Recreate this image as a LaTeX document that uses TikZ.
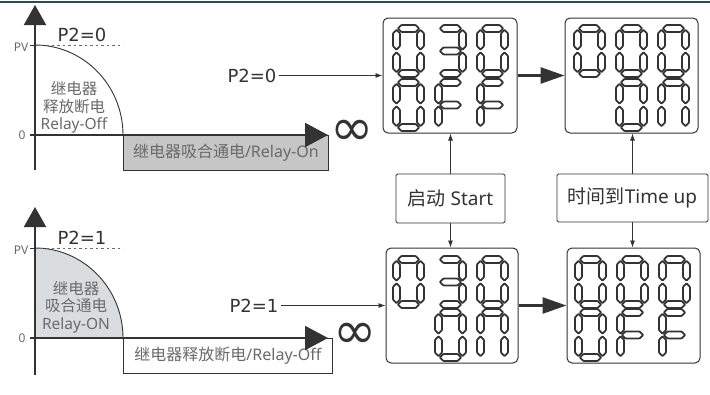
\documentclass[tikz,border=0pt]{standalone}
\usepackage{fontspec}
\setmainfont{Noto Sans}
\newfontfamily\cjk{Noto Sans CJK SC}
\newfontfamily\dvs{DejaVu Sans}
\usetikzlibrary{arrows.meta}
\definecolor{ink}{HTML}{333333}
\definecolor{soft}{HTML}{6A6A6A}
\definecolor{boxgray}{HTML}{C6C6C6}
\definecolor{fillon}{HTML}{D9DDE0}
\definecolor{topline}{HTML}{2E4A4E}
% seven-segment pieces (half thickness 3.5)
\newcommand\sgH[2]{\draw[seg] (#1,#2) -- ++(3.5,-3.5) -- ++(14.4,0) -- ++(3.5,3.5) -- ++(-3.5,3.5) -- ++(-14.4,0) -- cycle;}
\newcommand\sgV[2]{\draw[seg] (#1,#2) -- ++(3.5,3.5) -- ++(0,12.9) -- ++(-3.5,3.5) -- ++(-3.5,-3.5) -- ++(0,-12.9) -- cycle;}
\newcommand\segA[2]{\sgH{#1+4.8}{#2+3.5}}
\newcommand\segG[2]{\sgH{#1+4.8}{#2+26}}
\newcommand\segD[2]{\sgH{#1+4.8}{#2+48.5}}
\newcommand\segF[2]{\sgV{#1+3.5}{#2+4.8}}
\newcommand\segE[2]{\sgV{#1+3.5}{#2+27.3}}
\newcommand\segB[2]{\sgV{#1+27.5}{#2+4.8}}
\newcommand\segC[2]{\sgV{#1+27.5}{#2+27.3}}
\newcommand\chZero[2]{\segA{#1}{#2}\segB{#1}{#2}\segC{#1}{#2}\segD{#1}{#2}\segE{#1}{#2}\segF{#1}{#2}}
\newcommand\chThree[2]{\segA{#1}{#2}\segB{#1}{#2}\segC{#1}{#2}\segD{#1}{#2}\segG{#1}{#2}}
\newcommand\chEff[2]{\segA{#1}{#2}\segE{#1}{#2}\segF{#1}{#2}\segG{#1}{#2}}
\newcommand\chEn[2]{\segA{#1}{#2}\segB{#1}{#2}\segC{#1}{#2}\segE{#1}{#2}\segF{#1}{#2}}
\begin{document}
\begin{tikzpicture}[x=1pt,y=-1pt,
  seg/.style={draw=ink, line width=1.8pt, fill=white, line join=round, rounded corners=0.8pt},
  axisline/.style={draw=ink, line width=2pt},
  curveline/.style={draw=ink, line width=0.9pt},
  lcd/.style={draw=ink, line width=1pt, rounded corners=5pt, minimum width=#1, minimum height=115pt, inner sep=0pt},
  lblbox/.style={draw=ink, line width=0.8pt, rounded corners=1.5pt, inner sep=0pt, text=ink, font=\fontsize{19}{19}\selectfont},
  ptwo/.style={inner sep=2pt, text=ink, font=\dvs\fontsize{18}{18}\selectfont},
  axlbl/.style={inner sep=0pt, text=soft, font=\fontsize{12}{12}\selectfont},
  curvetxt/.style={inner sep=0pt, text=soft, align=center, font=\fontsize{15.5}{17.5}\selectfont},
  rangebox/.style={draw=ink, line width=0.8pt, anchor=north west, minimum height=35pt, inner sep=0pt, text=soft, font=\fontsize{16}{16}\selectfont},
  inftxt/.style={inner sep=0pt, text=ink, font=\dvs\fontsize{52}{52}\selectfont},
  thinarrow/.style={draw=ink, line width=0.8pt, -{Latex[length=7pt,width=5pt]}},
  bigarrow/.style={draw=ink, line width=2.6pt, -{Triangle[length=24pt,width=16pt]}}
]
\useasboundingbox (0,0) rectangle (710,394);
\fill[white] (0,0) rectangle (710,394);
\coordinate (tl1) at (0,2);
\coordinate (tl2) at (710,2);
\draw[topline, line width=1.6pt] (tl1) -- (tl2);

% ---------- top chart (P2=0) ----------
\coordinate (yb1) at (35,170);
\coordinate (yt1) at (35,5);
\coordinate (xs1) at (30,135);
\coordinate (xe1) at (328,135);
\coordinate (pv1) at (35,45);
\coordinate (pvl1) at (30,45);
\coordinate (dsh1) at (123,45);
\coordinate (ce1) at (123,135);
\node[rangebox, fill=boxgray, minimum width=205pt] (onbox) at (123,135) {{\cjk 继电器吸合通电}/Relay-On};
\draw[curveline] (pv1) .. controls (83.6,45) and (123,85.3) .. (ce1);
\draw[soft, line width=0.7pt, dash pattern=on 2.5pt off 3pt] (pv1) -- (dsh1);
\draw[ink, line width=0.8pt] (pvl1) -- (pv1);
\draw[axisline, -{Triangle[length=20pt,width=22pt]}] (yb1) -- (yt1);
\draw[axisline, -{Triangle[length=23pt,width=24pt]}] (xs1) -- (xe1);
\node[axlbl] (pvt1) at (21,47) {PV};
\node[axlbl] (zt1) at (22,135) {0};
\node[ptwo] (pc1) at (82,35) {P2=0};
\node[curvetxt] (ct1) at (74,107.5) {{\cjk 继电器}\\{\cjk 释放断电}\\Relay-Off};
\node[inftxt] (inf1) at (352,133) {∞};

% ---------- bottom chart (P2=1) ----------
\coordinate (yb2) at (35,375);
\coordinate (yt2) at (35,207);
\coordinate (xs2) at (30,338);
\coordinate (xe2) at (328,338);
\coordinate (pv2) at (35,248);
\coordinate (pvl2) at (30,248);
\coordinate (dsh2) at (123,248);
\coordinate (ce2) at (123,338);
\coordinate (o2) at (35,338);
\fill[fillon] (pv2) .. controls (83.6,248) and (123,288.3) .. (ce2) -- (o2) -- cycle;
\node[rangebox, fill=white, minimum width=209pt] (offbox) at (123,338) {{\cjk 继电器释放断电}/Relay-Off};
\draw[curveline] (pv2) .. controls (83.6,248) and (123,288.3) .. (ce2);
\draw[soft, line width=0.7pt, dash pattern=on 2.5pt off 3pt] (pv2) -- (dsh2);
\draw[ink, line width=0.8pt] (pvl2) -- (pv2);
\draw[axisline, -{Triangle[length=20pt,width=22pt]}] (yb2) -- (yt2);
\draw[axisline, -{Triangle[length=23pt,width=24pt]}] (xs2) -- (xe2);
\node[axlbl] (pvt2) at (21,250) {PV};
\node[axlbl] (zt2) at (22,338) {0};
\node[ptwo] (pc2) at (82,238) {P2=1};
\node[curvetxt] (ct2) at (76,307) {{\cjk 继电器}\\{\cjk 吸合通电}\\Relay-ON};
\node[inftxt] (inf2) at (355,336) {∞};

% ---------- displays ----------
\node[lcd=134pt] (d1) at (450,75.5) {};
\node[lcd=133pt] (d2) at (631.5,75.5) {};
\node[lcd=132pt] (d3) at (452,305.5) {};
\node[lcd=133pt] (d4) at (633.5,305.5) {};

\chZero{393}{25}\chThree{435}{25}\chZero{477}{25}
\chZero{393}{79}\chEff{435}{79}\chEff{477}{79}

\chZero{574}{25}\chZero{616}{25}\chZero{658}{25}
\chZero{616}{79}\chEn{658}{79}

\chZero{393}{256}\chThree{435}{256}\chZero{477}{256}
\chZero{435}{309}\chEn{477}{309}

\chZero{575}{256}\chZero{617}{256}\chZero{659}{256}
\chZero{575}{309}\chEff{617}{309}\chEff{659}{309}

% ---------- inputs ----------
\node[ptwo] (m0) at (252,75.5) {P2=0};
\node[ptwo] (m1) at (254,305.5) {P2=1};
\draw[thinarrow] (m0.east) -- (d1.west);
\draw[thinarrow] (m1.east) -- (d3.west);

\draw[bigarrow] (d1.east) -- (d2.west);
\draw[bigarrow] (d3.east) -- (d4.west);

\node[lblbox, minimum width=109pt, minimum height=49pt] (st) at (450.5,198.5) {{\cjk 启动} Start};
\node[lblbox, minimum width=151pt, minimum height=48pt] (tu) at (632.5,198) {{\cjk 时间到}Time up};
\draw[thinarrow] (st.north) -- (st.north |- d1.south);
\draw[thinarrow] (st.south) -- (st.south |- d3.north);
\draw[thinarrow] (tu.north) -- (tu.north |- d2.south);
\draw[thinarrow] (tu.south) -- (tu.south |- d4.north);
\end{tikzpicture}
\end{document}
